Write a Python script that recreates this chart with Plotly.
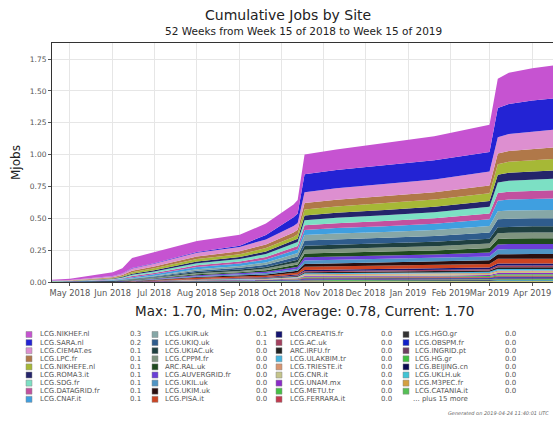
import plotly.graph_objects as go

# ---------------- data ----------------
dates = ["2018-04-17", "2018-05-01", "2018-06-01", "2018-06-08", "2018-06-15",
         "2018-07-01", "2018-08-01", "2018-09-01", "2018-09-20", "2018-10-10",
         "2018-10-13", "2018-10-18", "2018-11-10", "2018-12-15", "2019-01-20",
         "2019-03-01", "2019-03-07", "2019-03-15", "2019-04-01", "2019-04-16"]

sites = ["LCG.NIKHEF.nl", "LCG.SARA.nl", "LCG.CIEMAT.es", "LCG.LPC.fr", "LCG.NIKHEFE.nl",
         "LCG.ROMA3.it", "LCG.SDG.fr", "LCG.DATAGRID.fr", "LCG.CNAF.it",
         "LCG.UKIR.uk", "LCG.UKIQ.uk", "LCG.UKIAC.uk", "LCG.CPPM.fr", "ARC.RAL.uk",
         "LCG.AUVERGRID.fr", "LCG.UKIL.uk", "LCG.UKIM.uk", "LCG.PISA.it",
         "LCG.CREATIS.fr", "LCG.AC.uk", "ARC.IRFU.fr", "LCG.ULAKBIM.tr", "LCG.TRIESTE.it",
         "LCG.CNR.it", "LCG.UNAM.mx", "LCG.METU.tr", "LCG.FERRARA.it",
         "LCG.HGO.gr", "LCG.OBSPM.fr", "LCG.INGRID.pt", "LCG.HG.gr", "LCG.BEIJING.cn",
         "LCG.UKLH.uk", "LCG.M3PEC.fr", "LCG.CATANIA.it"]

legend_values = ["0.3", "0.2", "0.1", "0.1", "0.1", "0.1", "0.1", "0.1", "0.1",
                 "0.1", "0.1", "0.0", "0.0", "0.0", "0.0", "0.0", "0.0", "0.0",
                 "0.0", "0.0", "0.0", "0.0", "0.0", "0.0", "0.0", "0.0", "0.0",
                 "0.0", "0.0", "0.0", "0.0", "0.0", "0.0", "0.0", "0.0"]

colors = ["#c653d1", "#2323d4", "#dd8fd0", "#b07849", "#a6b836",
          "#24246b", "#7ce0c4", "#c2509f", "#3f9fe0",
          "#86a7a7", "#2f5c8c", "#1f4040", "#7f947f", "#1f4a1f",
          "#6a3fd6", "#4f94c4", "#2a0f0f", "#cc4422",
          "#141470", "#a3405e", "#222222", "#45b5e0", "#d89570",
          "#c4c48a", "#8a2bc8", "#45c045", "#c23a4e",
          "#333333", "#1020c8", "#6e3e60", "#40c040", "#0a0a50",
          "#40c4d4", "#d4a040", "#55c055"]

# cumulative Mjobs per site at each date
cum = {
    "LCG.NIKHEF.nl":   [0.006, 0.010, 0.030, 0.040, 0.080, 0.085, 0.085, 0.085, 0.090, 0.100, 0.105, 0.155, 0.160, 0.175, 0.190, 0.215, 0.230, 0.245, 0.253, 0.260],
    "LCG.SARA.nl":     [0.0005, 0.001, 0.002, 0.002, 0.003, 0.004, 0.006, 0.010, 0.035, 0.070, 0.075, 0.140, 0.145, 0.148, 0.150, 0.152, 0.230, 0.237, 0.242, 0.245],
    "LCG.CIEMAT.es":   [0.002, 0.003, 0.008, 0.010, 0.018, 0.022, 0.030, 0.034, 0.040, 0.050, 0.052, 0.085, 0.090, 0.095, 0.100, 0.110, 0.128, 0.132, 0.136, 0.139],
    "LCG.LPC.fr":      [0.001, 0.002, 0.005, 0.007, 0.012, 0.015, 0.020, 0.023, 0.028, 0.035, 0.037, 0.050, 0.052, 0.055, 0.058, 0.062, 0.084, 0.086, 0.088, 0.090],
    "LCG.NIKHEFE.nl":  [0.001, 0.002, 0.005, 0.007, 0.011, 0.014, 0.019, 0.022, 0.027, 0.033, 0.035, 0.048, 0.050, 0.053, 0.056, 0.060, 0.083, 0.086, 0.088, 0.090],
    "LCG.ROMA3.it":    [0.001, 0.001, 0.004, 0.005, 0.008, 0.010, 0.014, 0.016, 0.020, 0.025, 0.026, 0.037, 0.039, 0.041, 0.043, 0.046, 0.060, 0.062, 0.064, 0.065],
    "LCG.SDG.fr":      [0.001, 0.002, 0.004, 0.006, 0.009, 0.012, 0.016, 0.019, 0.023, 0.028, 0.030, 0.040, 0.042, 0.045, 0.048, 0.052, 0.083, 0.086, 0.088, 0.090],
    "LCG.DATAGRID.fr": [0.001, 0.001, 0.004, 0.005, 0.008, 0.010, 0.014, 0.016, 0.020, 0.025, 0.026, 0.037, 0.039, 0.041, 0.043, 0.046, 0.060, 0.062, 0.064, 0.065],
    "LCG.CNAF.it":     [0.001, 0.002, 0.004, 0.006, 0.009, 0.012, 0.016, 0.019, 0.023, 0.028, 0.030, 0.040, 0.042, 0.045, 0.048, 0.052, 0.083, 0.086, 0.088, 0.090],
    "LCG.UKIR.uk":     [0.001, 0.001, 0.002, 0.003, 0.004, 0.006, 0.012, 0.014, 0.018, 0.025, 0.026, 0.042, 0.044, 0.045, 0.047, 0.051, 0.063, 0.064, 0.065, 0.065],
    "LCG.UKIQ.uk":     [0.001, 0.001, 0.002, 0.003, 0.004, 0.006, 0.011, 0.014, 0.017, 0.024, 0.026, 0.042, 0.043, 0.044, 0.046, 0.050, 0.062, 0.063, 0.064, 0.064],
    "LCG.UKIAC.uk":    [0.000, 0.000, 0.001, 0.002, 0.003, 0.004, 0.009, 0.011, 0.013, 0.018, 0.019, 0.031, 0.032, 0.033, 0.035, 0.037, 0.047, 0.047, 0.048, 0.048],
    "LCG.CPPM.fr":     [0.000, 0.000, 0.001, 0.002, 0.003, 0.004, 0.008, 0.010, 0.012, 0.017, 0.018, 0.030, 0.031, 0.032, 0.033, 0.036, 0.045, 0.045, 0.046, 0.046],
    "ARC.RAL.uk":      [0.000, 0.000, 0.001, 0.002, 0.003, 0.004, 0.008, 0.010, 0.012, 0.017, 0.018, 0.029, 0.030, 0.031, 0.032, 0.034, 0.043, 0.043, 0.044, 0.044],
    "LCG.AUVERGRID.fr":[0.000, 0.000, 0.001, 0.002, 0.002, 0.004, 0.007, 0.009, 0.011, 0.015, 0.016, 0.026, 0.027, 0.028, 0.029, 0.031, 0.039, 0.040, 0.040, 0.040],
    "LCG.UKIL.uk":     [0.000, 0.000, 0.001, 0.002, 0.002, 0.004, 0.007, 0.009, 0.011, 0.015, 0.016, 0.026, 0.027, 0.028, 0.029, 0.031, 0.039, 0.040, 0.040, 0.040],
    "LCG.UKIM.uk":     [0.000, 0.000, 0.001, 0.001, 0.002, 0.003, 0.006, 0.008, 0.010, 0.014, 0.014, 0.023, 0.024, 0.025, 0.026, 0.028, 0.035, 0.036, 0.036, 0.036],
    "LCG.PISA.it":     [0.000, 0.000, 0.001, 0.001, 0.002, 0.003, 0.007, 0.008, 0.010, 0.014, 0.015, 0.024, 0.025, 0.026, 0.027, 0.029, 0.036, 0.037, 0.037, 0.037],
    "LCG.CREATIS.fr":  [0.000, 0.000, 0.000, 0.001, 0.001, 0.001, 0.003, 0.004, 0.004, 0.006, 0.006, 0.010, 0.011, 0.011, 0.012, 0.012, 0.016, 0.016, 0.016, 0.016],
    "LCG.AC.uk":       [0.000, 0.000, 0.000, 0.000, 0.001, 0.001, 0.002, 0.003, 0.004, 0.005, 0.006, 0.009, 0.009, 0.010, 0.010, 0.011, 0.014, 0.014, 0.014, 0.014],
    "ARC.IRFU.fr":     [0.000, 0.000, 0.000, 0.000, 0.001, 0.001, 0.002, 0.003, 0.004, 0.005, 0.005, 0.008, 0.009, 0.009, 0.009, 0.010, 0.013, 0.013, 0.013, 0.013],
    "LCG.ULAKBIM.tr":  [0.000, 0.000, 0.000, 0.000, 0.001, 0.001, 0.002, 0.003, 0.003, 0.005, 0.005, 0.008, 0.008, 0.008, 0.009, 0.009, 0.012, 0.012, 0.012, 0.012],
    "LCG.TRIESTE.it":  [0.000, 0.000, 0.000, 0.000, 0.001, 0.001, 0.002, 0.002, 0.003, 0.004, 0.004, 0.007, 0.007, 0.008, 0.008, 0.009, 0.011, 0.011, 0.011, 0.011],
    "LCG.CNR.it":      [0.000, 0.000, 0.000, 0.000, 0.001, 0.001, 0.002, 0.002, 0.003, 0.004, 0.004, 0.006, 0.007, 0.007, 0.007, 0.008, 0.010, 0.010, 0.010, 0.010],
    "LCG.UNAM.mx":     [0.000, 0.000, 0.000, 0.000, 0.000, 0.001, 0.002, 0.002, 0.002, 0.003, 0.004, 0.006, 0.006, 0.006, 0.006, 0.007, 0.009, 0.009, 0.009, 0.009],
    "LCG.METU.tr":     [0.000, 0.000, 0.000, 0.000, 0.000, 0.001, 0.002, 0.002, 0.002, 0.003, 0.004, 0.006, 0.006, 0.006, 0.006, 0.007, 0.009, 0.009, 0.009, 0.009],
    "LCG.FERRARA.it":  [0.000, 0.000, 0.000, 0.000, 0.000, 0.001, 0.001, 0.002, 0.002, 0.003, 0.003, 0.005, 0.005, 0.006, 0.006, 0.006, 0.008, 0.008, 0.008, 0.008],
    "LCG.HGO.gr":      [0.000, 0.000, 0.000, 0.000, 0.000, 0.001, 0.001, 0.002, 0.002, 0.003, 0.003, 0.005, 0.005, 0.005, 0.005, 0.005, 0.007, 0.007, 0.007, 0.007],
    "LCG.OBSPM.fr":    [0.000, 0.000, 0.000, 0.000, 0.000, 0.001, 0.001, 0.002, 0.002, 0.003, 0.003, 0.005, 0.005, 0.005, 0.005, 0.005, 0.007, 0.007, 0.007, 0.007],
    "LCG.INGRID.pt":   [0.000, 0.000, 0.000, 0.000, 0.000, 0.000, 0.001, 0.001, 0.002, 0.002, 0.002, 0.004, 0.004, 0.004, 0.004, 0.005, 0.006, 0.006, 0.006, 0.006],
    "LCG.HG.gr":       [0.000, 0.000, 0.000, 0.000, 0.000, 0.000, 0.001, 0.001, 0.002, 0.002, 0.002, 0.004, 0.004, 0.004, 0.004, 0.005, 0.006, 0.006, 0.006, 0.006],
    "LCG.BEIJING.cn":  [0.000, 0.000, 0.000, 0.000, 0.000, 0.000, 0.001, 0.001, 0.001, 0.002, 0.002, 0.003, 0.003, 0.003, 0.004, 0.004, 0.005, 0.005, 0.005, 0.005],
    "LCG.UKLH.uk":     [0.000, 0.000, 0.000, 0.000, 0.000, 0.000, 0.001, 0.001, 0.001, 0.002, 0.002, 0.003, 0.003, 0.003, 0.004, 0.004, 0.005, 0.005, 0.005, 0.005],
    "LCG.M3PEC.fr":    [0.000, 0.000, 0.000, 0.000, 0.000, 0.000, 0.001, 0.001, 0.001, 0.002, 0.002, 0.003, 0.003, 0.003, 0.003, 0.003, 0.004, 0.004, 0.004, 0.004],
    "LCG.CATANIA.it":  [0.000, 0.000, 0.000, 0.000, 0.000, 0.000, 0.001, 0.001, 0.001, 0.002, 0.002, 0.003, 0.003, 0.003, 0.003, 0.003, 0.004, 0.004, 0.004, 0.004],
}

title_text = "Cumulative Jobs by Site"
subtitle_text = "52 Weeks from Week 15 of 2018 to Week 15 of 2019"
stats_text = "Max: 1.70, Min: 0.02, Average: 0.78, Current: 1.70"
more_text = "... plus 15 more"
generated_text = "Generated on 2019-04-24 11:40:01 UTC"

# ---------------- figure ----------------
W, H = 553, 421
L, R, T, B = 52, 553, 43, 282  # plot area pixel bounds

fig = go.Figure()
# stack smallest at bottom, largest on top
for name, col in reversed(list(zip(sites, colors))):
    fig.add_trace(go.Scatter(
        x=dates, y=cum[name], name=name, mode="lines",
        stackgroup="one", line=dict(width=0, color=col),
        fillcolor=col, showlegend=False, hoverinfo="x+y+name"))

def px(xp):
    return (xp - L) / (R - L)

def py(yp):
    return (B - yp) / (B - T)

ann = []
shapes = []
ann.append(dict(text=title_text, x=px(288), y=py(15), xref="paper", yref="paper",
                showarrow=False, font=dict(family="DejaVu Sans", size=14, color="#222"),
                xanchor="center", yanchor="middle"))
ann.append(dict(text=subtitle_text, x=px(303), y=py(31), xref="paper", yref="paper",
                showarrow=False, font=dict(family="DejaVu Sans", size=10.5, color="#222"),
                xanchor="center", yanchor="middle"))
ann.append(dict(text=stats_text, x=px(304), y=py(311), xref="paper", yref="paper",
                showarrow=False, font=dict(family="DejaVu Sans", size=13.5, color="#222"),
                xanchor="center", yanchor="middle"))
ann.append(dict(text="Mjobs", x=px(16), y=py(163), xref="paper", yref="paper",
                showarrow=False, textangle=-90, font=dict(family="DejaVu Sans", size=12, color="#222"),
                xanchor="center", yanchor="middle"))

# legend (4 columns x 9 rows)
col_sw = [26, 152, 276, 403]
col_tx = [38, 163, 288, 413]
col_val = [128, 254, 379, 503]
row0, drow = 334.5, 8.1
for i, (name, col, val) in enumerate(zip(sites, colors, legend_values)):
    c, r = divmod(i, 9)
    yy = row0 + r * drow
    shapes.append(dict(type="rect", xref="paper", yref="paper",
                       x0=px(col_sw[c]), x1=px(col_sw[c] + 6), y0=py(yy + 3), y1=py(yy - 3),
                       fillcolor=col, line=dict(color="#888", width=0.5)))
    ann.append(dict(text=name, x=px(col_tx[c]), y=py(yy), xref="paper", yref="paper",
                    showarrow=False, xanchor="left", yanchor="middle",
                    font=dict(family="DejaVu Sans", size=7, color="#555")))
    ann.append(dict(text=val, x=px(col_val[c]), y=py(yy), xref="paper", yref="paper",
                    showarrow=False, xanchor="left", yanchor="middle",
                    font=dict(family="DejaVu Sans", size=7, color="#555")))
ann.append(dict(text=more_text, x=px(col_tx[3] - 2), y=py(row0 + 8 * drow), xref="paper", yref="paper",
                showarrow=False, xanchor="left", yanchor="middle",
                font=dict(family="DejaVu Sans", size=7, color="#555")))
ann.append(dict(text="<i>" + generated_text + "</i>", x=px(551), y=py(413), xref="paper", yref="paper",
                showarrow=False, xanchor="right", yanchor="middle",
                font=dict(family="DejaVu Sans", size=5, color="#666")))

fig.update_layout(
    width=W, height=H,
    margin=dict(l=L, r=W - R, t=T, b=H - B, pad=0),
    paper_bgcolor="#ffffff", plot_bgcolor="#ffffff",
    annotations=ann, shapes=shapes, showlegend=False,
    xaxis=dict(range=["2018-04-18", "2019-04-16"], dtick="M1", tick0="2018-05-01",
               tickformat="%b %Y", tickangle=0,
               tickfont=dict(family="DejaVu Sans", size=8.3, color="#555"),
               showgrid=True, gridcolor="#e6e6e6", gridwidth=1,
               ticks="outside", ticklen=3, tickcolor="#555",
               showline=True, linecolor="#333", linewidth=1, mirror=True, zeroline=False),
    yaxis=dict(range=[0, 1.876], dtick=0.25, tick0=0, tickformat=".2f",
               tickfont=dict(family="DejaVu Sans", size=7.5, color="#555"),
               showgrid=True, gridcolor="#e6e6e6", gridwidth=1,
               ticks="outside", ticklen=3, tickcolor="#555",
               showline=True, linecolor="#333", linewidth=1, mirror=True, zeroline=False),
)

fig.write_html("out.html")
